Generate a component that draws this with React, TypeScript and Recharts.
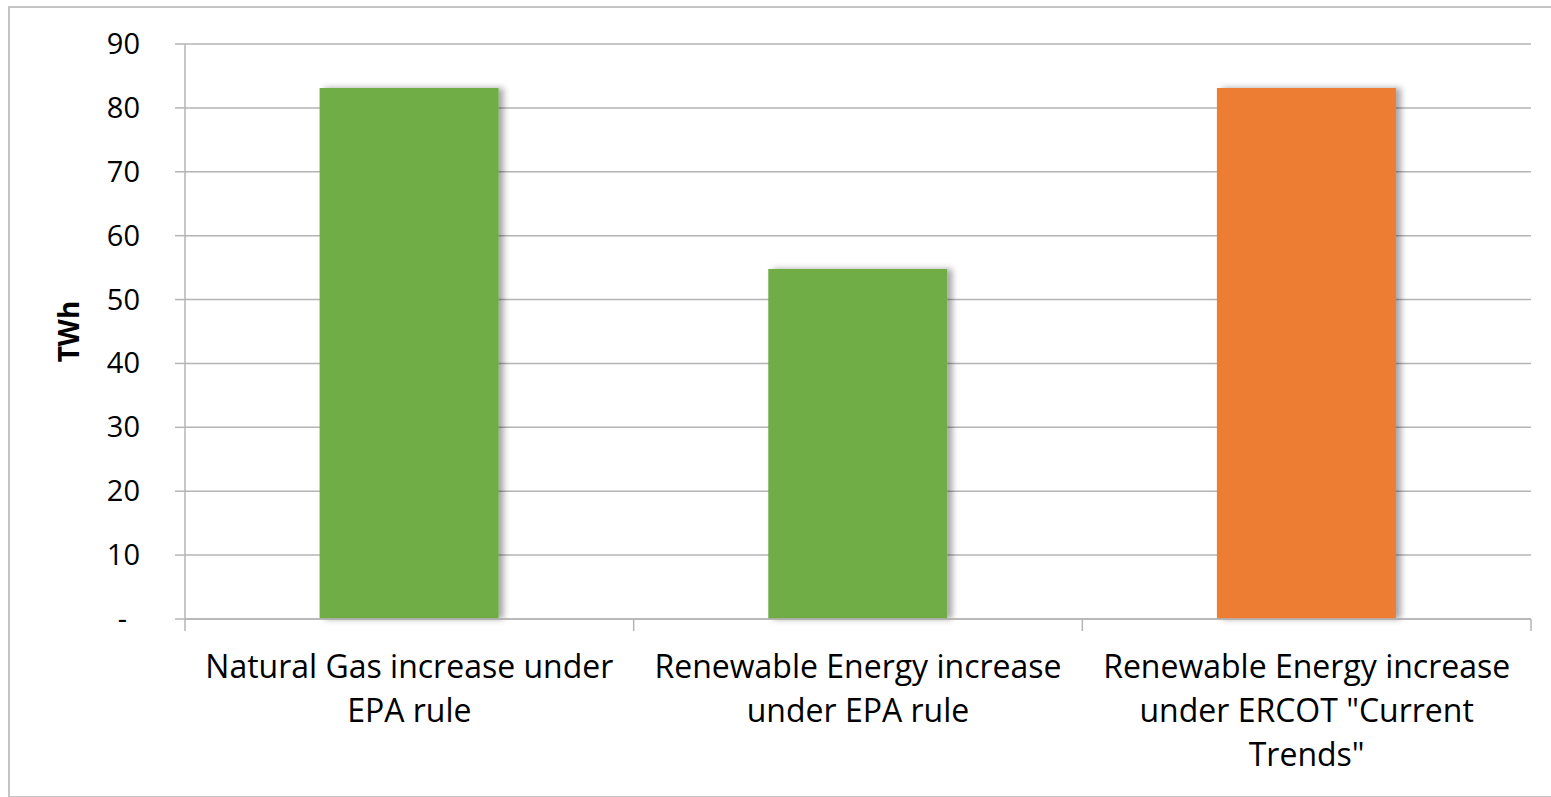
import { Bar, BarChart, CartesianGrid, Cell, Rectangle, XAxis, YAxis } from 'recharts';

const categories = [
  ['Natural Gas increase under', 'EPA rule'],
  ['Renewable Energy increase', 'under EPA rule'],
  ['Renewable Energy increase', 'under ERCOT "Current', 'Trends"'],
];
const twhValues = [83.1, 54.8, 83.1];
const barColors = ['#70AD47', '#70AD47', '#ED7D31'];
const yTicks = [0, 10, 20, 30, 40, 50, 60, 70, 80, 90];

const FONT = '"Open Sans", sans-serif';
const GRID = '#b4b4b4';

const data = categories.map((lines, i) => ({ key: i, lines, value: twhValues[i] }));

// category label plus tick marks at the band edges (Excel style)
function CategoryTick({ x, y, width, payload }: any) {
  const lines = categories[payload.index] ?? [];
  const band = width / categories.length;
  const last = payload.index === categories.length - 1;
  return (
    <g>
      <line x1={x - band / 2} x2={x - band / 2} y1={y} y2={y + 12} stroke={GRID} strokeWidth={1.5} />
      {last && <line x1={x + band / 2} x2={x + band / 2} y1={y} y2={y + 12} stroke={GRID} strokeWidth={1.5} />}
      <text x={x} y={y} textAnchor="middle" fontFamily={FONT} fontSize={32} fill="#000">
        {lines.map((l, i) => (
          <tspan key={i} x={x} dy={i === 0 ? 59 : 44}>
            {l}
          </tspan>
        ))}
      </text>
    </g>
  );
}

function ValueTick({ x, y, payload }: any) {
  const zero = payload.value === 0;
  return (
    <text
      x={zero ? x - 13 : x}
      y={y}
      dy={10}
      textAnchor="end"
      fontFamily={FONT}
      fontSize={29}
      fill="#000"
    >
      {zero ? '-' : payload.value}
    </text>
  );
}

function ShadowBar(props: any) {
  return <Rectangle {...props} filter="url(#barShadow)" />;
}

export default function App() {
  return (
    <div style={{ position: 'absolute', left: 0, top: 0, width: 1551, height: 797, background: '#fff' }}>
      <div
        style={{
          position: 'absolute',
          left: 8,
          top: 6,
          width: 1560,
          height: 788,
          border: '2px solid #c4c4c4',
        }}
      />
      <BarChart
        width={1551}
        height={797}
        data={data}
        margin={{ top: 44, right: 20, left: 0, bottom: 0 }}
        barCategoryGap="30%"
        style={{ position: 'absolute', left: 0, top: 0 }}
      >
        <defs>
          <filter id="barShadow" x="-10%" y="-10%" width="130%" height="120%">
            <feDropShadow dx={5} dy={0} stdDeviation={3} floodColor="#000" floodOpacity={0.35} />
          </filter>
        </defs>
        <CartesianGrid vertical={false} stroke={GRID} strokeWidth={1.5} />
        <XAxis
          dataKey="key"
          height={178}
          interval={0}
          axisLine={{ stroke: GRID, strokeWidth: 1.5 }}
          tickLine={false}
          tickSize={0}
          tickMargin={0}
          tick={<CategoryTick />}
        />
        <YAxis
          width={185}
          domain={[0, 90]}
          ticks={yTicks}
          interval={0}
          axisLine={{ stroke: GRID, strokeWidth: 1.5 }}
          tickLine={{ stroke: GRID, strokeWidth: 1.5 }}
          tickSize={10}
          tickMargin={35}
          tick={<ValueTick />}
          label={{
            content: ({ viewBox }: any) => (
              <text
                x={68}
                y={viewBox.y + viewBox.height / 2}
                transform={`rotate(-90, 68, ${viewBox.y + viewBox.height / 2})`}
                textAnchor="middle"
                dominantBaseline="central"
                fontFamily={FONT}
                fontWeight="bold"
                fontSize={28}
                fill="#000"
              >
                TWh
              </text>
            ),
          }}
        />
        <Bar dataKey="value" isAnimationActive={false} shape={<ShadowBar />}>
          {data.map((d) => (
            <Cell key={d.key} fill={barColors[d.key]} />
          ))}
        </Bar>
      </BarChart>
    </div>
  );
}
